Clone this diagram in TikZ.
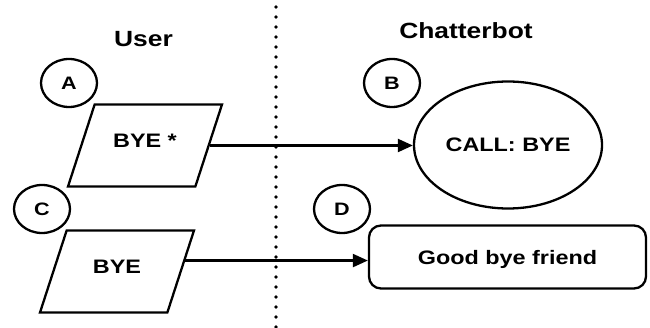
\documentclass[tikz,border=0pt]{standalone}
\usepackage{fontspec}
\setmainfont{Liberation Sans}[FakeStretch=1.2]
\usetikzlibrary{shapes.geometric,arrows.meta,calc}

\begin{document}
\begin{tikzpicture}[x=1pt, y=-1pt, line width=2.3pt,
		tag/.style={draw, ellipse, minimum width=56pt, minimum height=48pt, inner sep=0pt, text depth=0pt, font=\bfseries\fontsize{18}{18}\selectfont},
		said/.style={draw, trapezium, trapezium left angle=72, trapezium right angle=108, trapezium stretches body, minimum width=154pt, inner xsep=0pt, inner ysep=29pt, text height=14pt, text depth=10pt, font=\bfseries\fontsize{19.5}{20}\selectfont},
		head/.style={anchor=base, font=\bfseries\fontsize{22}{22}\selectfont},
		msg/.style={-{Triangle[length=15pt, width=13pt]}, line width=2.2pt}]
		\useasboundingbox (0,0) rectangle (650,328);
		\node[head] (user) at (143.5,47) {User};
		\node[head] (bot) at (466,39) {Chatterbot};
		\coordinate (top) at (276,7);
		\coordinate (bottom) at (276,328);
		\draw[line width=3.6pt, line cap=round, dash pattern=on 0pt off 10pt] (top) -- (bottom);
		\node[tag] (a) at (69,83) {A};
		\node[tag] (b) at (392,83) {B};
		\node[tag] (c) at (42,209) {C};
		\node[tag] (d) at (342,209) {D};
		\node[said] (byestar) at (145,145.5) {BYE *};
		\node[said] (bye) at (117,271.5) {BYE};
		\node[draw, ellipse, minimum width=188pt, minimum height=127pt, font=\bfseries\fontsize{19.5}{20}\selectfont] (call) at (508,145) {CALL: BYE};
		\node[draw, rounded corners=12pt, minimum width=277pt, minimum height=63pt, text depth=0pt, font=\bfseries\fontsize{19.5}{20}\selectfont] (answer) at (507.5,257) {Good bye friend};
		\draw[msg] (byestar.east) -- (byestar.east -| call.west);
		\coordinate (byeout) at ($(bye.top right corner)!0.37!(bye.bottom right corner)$);
		\draw[msg] (byeout) -- (byeout -| answer.west);
	\end{tikzpicture}
\end{document}
